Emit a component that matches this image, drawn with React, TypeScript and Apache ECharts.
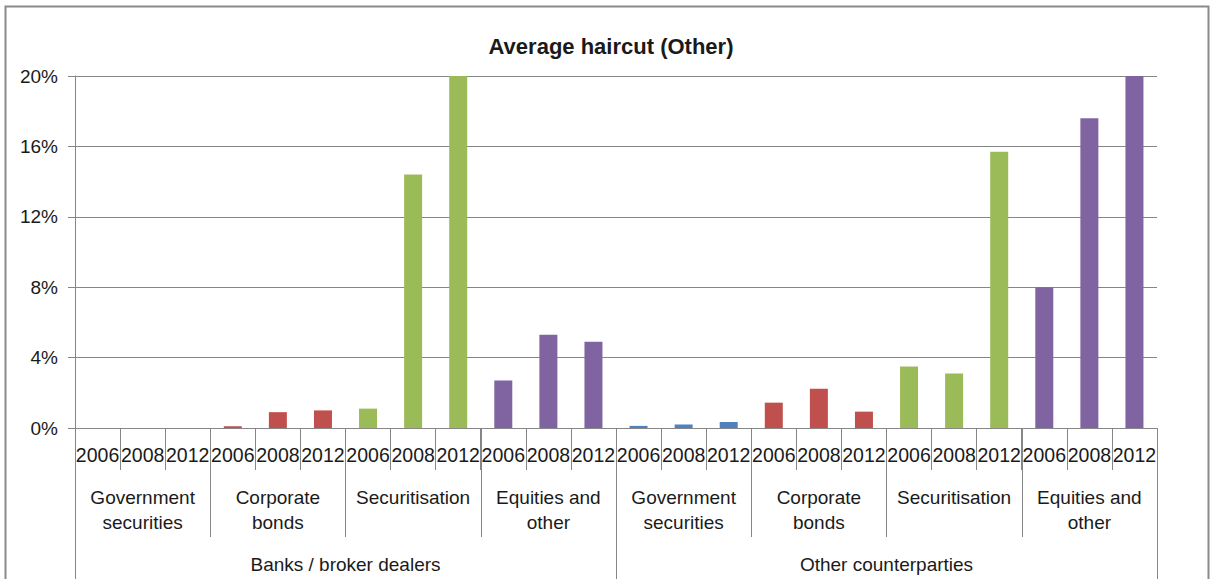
import React, { useEffect, useRef } from "react";
import * as echarts from "echarts";

// Survey years repeated inside each collateral group
const years = ["2006", "2008", "2012"];
// Collateral groups (second label row)
const groups = [
  "Government\nsecurities",
  "Corporate\nbonds",
  "Securitisation",
  "Equities and\nother",
  "Government\nsecurities",
  "Corporate\nbonds",
  "Securitisation",
  "Equities and\nother",
];
// Counterparty types (third label row)
const counterparties = ["Banks / broker dealers", "Other counterparties"];
const groupColors = ["#4F81BD", "#C0504D", "#9BBB59", "#8064A2"];

// Average haircut in %, per group, per year
const banksGov = [0, 0, 0];
const banksCorp = [0.1, 0.9, 1.0];
const banksSec = [1.1, 14.4, 20.0];
const banksEq = [2.7, 5.3, 4.9];
const otherGov = [0.12, 0.2, 0.34];
const otherCorp = [1.44, 2.23, 0.93];
const otherSec = [3.5, 3.1, 15.7];
const otherEq = [8.0, 17.6, 20.0];

const yTicks = [0, 4, 8, 12, 16, 20];

const FONT = "'Liberation Sans', Arial, sans-serif";
const GRID = "#868686";
const TEXT = "#1a1a1a";

export default function App() {
  const ref = useRef<HTMLDivElement>(null);

  useEffect(() => {
    if (!ref.current) return;
    const chart = echarts.init(ref.current, undefined, { renderer: "svg" });

    const blocks = [banksGov, banksCorp, banksSec, banksEq, otherGov, otherCorp, otherSec, otherEq];
    const yearCats: string[] = [];
    const values: { value: number; itemStyle: { color: string } }[] = [];
    blocks.forEach((block, gi) => {
      block.forEach((v, yi) => {
        yearCats.push(years[yi]);
        values.push({ value: v / 100, itemStyle: { color: groupColors[gi % 4] } });
      });
    });

    const lbl = { fontFamily: FONT, fontSize: 19, color: TEXT };

    chart.setOption({
      animation: false,
      backgroundColor: "#ffffff",
      title: {
        text: "Average haircut (Other)",
        left: 606,
        textAlign: "center",
        top: 30,
        textStyle: { fontFamily: FONT, fontSize: 22, fontWeight: "bold", color: TEXT },
      },
      graphic: [
        {
          type: "rect",
          shape: { x: 5.5, y: 6.5, width: 1203, height: 600 },
          style: { fill: "none", stroke: "#8a8a8a", lineWidth: 2 },
          silent: true,
        },
      ],
      grid: { left: 75, right: 53, top: 76, bottom: 151, containLabel: false },
      xAxis: [
        {
          type: "category",
          data: yearCats,
          position: "bottom",
          axisLine: { show: true, lineStyle: { color: GRID, width: 1 } },
          axisTick: { show: true, interval: 0, length: 42, lineStyle: { color: GRID } },
          axisLabel: { ...lbl, fontSize: 19.5, interval: 0, margin: 17 },
          splitLine: { show: false },
        },
        {
          type: "category",
          data: groups,
          position: "bottom",
          axisLine: { show: false },
          axisTick: { show: true, interval: 0, length: 109, lineStyle: { color: GRID } },
          axisLabel: { ...lbl, interval: 0, margin: 57, lineHeight: 25 },
        },
        {
          type: "category",
          data: counterparties,
          position: "bottom",
          axisLine: { show: false },
          axisTick: { show: true, interval: 0, length: 160, lineStyle: { color: GRID } },
          axisLabel: { ...lbl, interval: 0, margin: 127 },
        },
      ],
      yAxis: {
        type: "value",
        min: yTicks[0] / 100,
        max: yTicks[yTicks.length - 1] / 100,
        interval: 0.04,
        axisLine: { show: true, lineStyle: { color: GRID } },
        axisTick: { show: true, length: 7, lineStyle: { color: GRID } },
        axisLabel: {
          ...lbl,
          margin: 17,
          formatter: (v: number) => `${Math.round(v * 100)}%`,
        },
        splitLine: { show: true, lineStyle: { color: GRID, width: 1 } },
      },
      series: [
        {
          type: "bar",
          xAxisIndex: 0,
          data: values,
          barWidth: 18,
        },
      ],
    });

    return () => chart.dispose();
  }, []);

  return (
    <div
      ref={ref}
      style={{ position: "absolute", left: 0, top: 0, width: 1210, height: 579, background: "#fff" }}
    />
  );
}
